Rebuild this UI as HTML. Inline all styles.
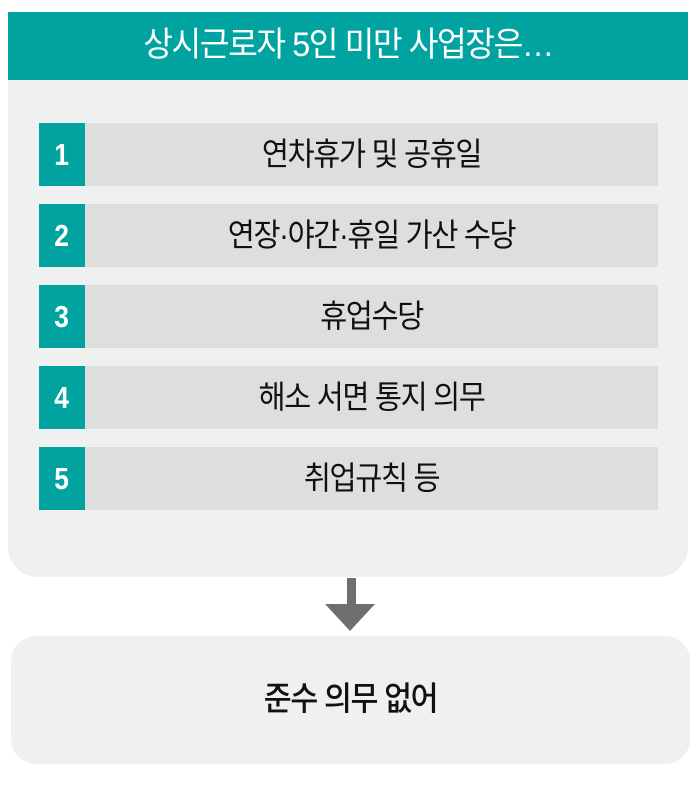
<!DOCTYPE html>
<html><head><meta charset="utf-8"><style>
*{margin:0;padding:0;box-sizing:border-box}
body{width:700px;height:786px;background:#fff;position:relative;overflow:hidden;font-family:"Liberation Sans","Noto Sans CJK KR",sans-serif}
.panel{position:absolute;left:8px;top:12px;width:680px;height:565px;background:#eff0f0;border-radius:0 0 30px 30px}
.hdr{position:absolute;left:8px;top:12px;width:680px;height:68px;background:#01a3a1}
.hdr span{position:absolute;left:0;right:0;top:0;line-height:66px;text-align:center;color:#fff;font-size:34px;letter-spacing:-1.5px;transform:scaleX(0.95)}
.row{position:absolute;left:39px;width:619px;height:63px;background:#dddfdf}
.num{position:absolute;left:0;top:0;width:46px;height:63px;background:#01a3a1;color:#fff;font-size:31px;font-weight:bold;text-align:center;line-height:63px}
.num span{display:inline-block;transform:scaleX(0.85)}
.txt{position:absolute;left:46px;right:0;top:0;height:63px;line-height:62px;text-align:center;font-size:32px;color:#111;letter-spacing:-1.5px;transform:scaleX(0.92)}
.bot{position:absolute;left:11px;top:636px;width:679px;height:128px;background:#eff0f0;border-radius:25px}
.bot span{position:absolute;left:0;right:0;top:0;line-height:126px;text-align:center;font-size:33px;color:#111;letter-spacing:-1.5px;transform:scaleX(0.92);font-weight:500}
</style></head><body>
<div class="panel"></div>
<div class="hdr"><span>상시근로자 5인 미만 사업장은…</span></div>
<div class="row" style="top:123px"><div class="num"><span>1</span></div><div class="txt">연차휴가 및 공휴일</div></div>
<div class="row" style="top:204px"><div class="num"><span>2</span></div><div class="txt">연장·야간·휴일 가산 수당</div></div>
<div class="row" style="top:285px"><div class="num"><span>3</span></div><div class="txt">휴업수당</div></div>
<div class="row" style="top:366px"><div class="num"><span>4</span></div><div class="txt">해소 서면 통지 의무</div></div>
<div class="row" style="top:447px"><div class="num"><span>5</span></div><div class="txt">취업규칙 등</div></div>
<svg style="position:absolute;left:0;top:0" width="700" height="786"><rect x="347" y="578" width="9" height="28" fill="#6f6f6f"/><polygon points="325,604 375,604 350,631" fill="#6f6f6f"/></svg>
<div class="bot"><span>준수 의무 없어</span></div>
</body></html>
